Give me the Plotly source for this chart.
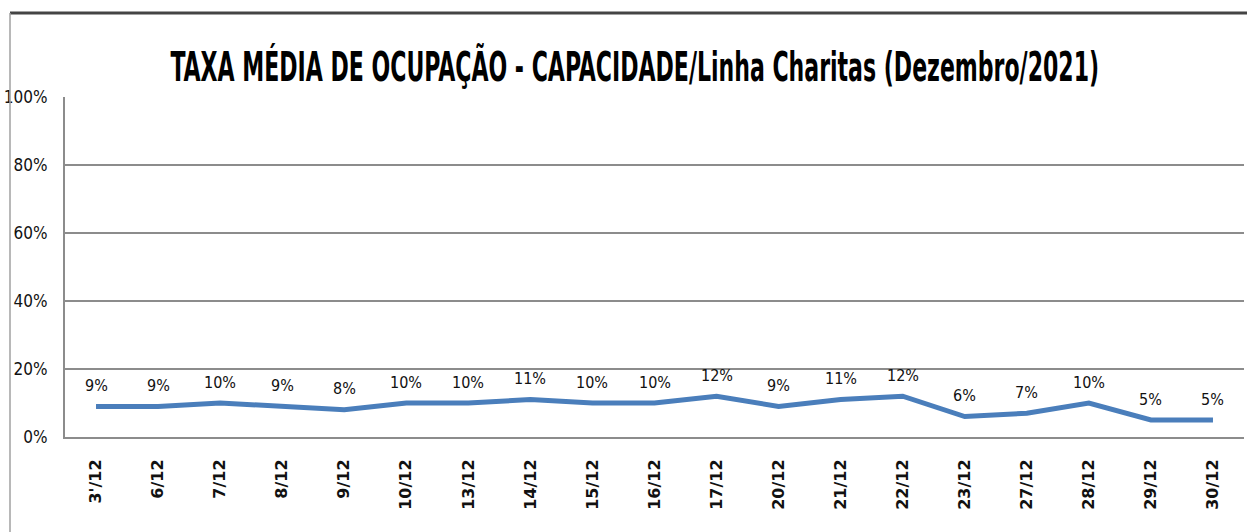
import plotly.graph_objects as go

dates = ["3'/12", "6/12", "7/12", "8/12", "9/12", "10/12", "13/12", "14/12", "15/12", "16/12",
         "17/12", "20/12", "21/12", "22/12", "23/12", "27/12", "28/12", "29/12", "30/12"]
ocupacao = [9, 9, 10, 9, 8, 10, 10, 11, 10, 10, 12, 9, 11, 12, 6, 7, 10, 5, 5]
y_ticks = [0, 20, 40, 60, 80, 100]
y_tick_text = ["0%", "20%", "40%", "60%", "80%", "100%"]

W, H = 1247, 532
L, R, T, B = 65, 3, 97, 95
pw, ph = W - L - R, H - T - B
NARROW = "DejaVu Sans Condensed, Liberation Sans, sans-serif"
TITLE_Y = 67

fig = go.Figure()
fig.add_trace(go.Scatter(
    x=dates, y=ocupacao, mode="lines",
    line=dict(color="#4A7EBB", width=5),
    cliponaxis=False, hoverinfo="skip"
))

for d, v in zip(dates, ocupacao):
    fig.add_annotation(x=d, y=v, text=f"{v}%", showarrow=False, yanchor="middle",
                       yshift=21, font=dict(family=NARROW, size=16, color="#111"))

fig.update_layout(
    width=W, height=H, margin=dict(l=L, r=R, t=T, b=B),
    paper_bgcolor="white", plot_bgcolor="white", showlegend=False,
    title=dict(text="<b>TAXA MÉDIA DE OCUPAÇÃO - CAPACIDADE/Linha Charitas (Dezembro/2021)</b>",
               x=0.509, xanchor="center", y=1 - TITLE_Y / H, yanchor="middle",
               font=dict(family=NARROW, size=24.5, color="black")),
    xaxis=dict(type="category", range=[-0.5, len(dates) - 0.5], tickangle=-90,
               showgrid=False, showline=True,
               linecolor="#8C8C8C", linewidth=2, ticks="", ticklabelstandoff=14,
               tickfont=dict(family="DejaVu Sans", size=16, color="#111", weight="bold")),
    yaxis=dict(range=[0, 100], tickvals=y_ticks, ticktext=y_tick_text, showgrid=True,
               gridcolor="#8C8C8C", gridwidth=2, showline=True, linecolor="#8C8C8C",
               linewidth=2, ticks="", ticklabelstandoff=12, zeroline=False,
               tickfont=dict(family=NARROW, size=17, color="#111")),
)

# outer chart frame (top and left edges visible in the reference)
fx = (10 - L) / pw
fy_top = (T + ph - 13) / ph
fy_bot = (T + ph - H - 5) / ph
fig.add_shape(type="line", xref="paper", yref="paper", x0=fx, x1=1.01, y0=fy_top, y1=fy_top,
              line=dict(color="#444", width=3))
fig.add_shape(type="line", xref="paper", yref="paper", x0=fx, x1=fx, y0=fy_top, y1=fy_bot,
              line=dict(color="#A0A0A0", width=1.5))

s = 1.68
post = (
    "document.body.style.margin='0';document.body.style.overflow='hidden';"
    "var t=document.querySelector('.gtitle');"
    f"if(t){{t.setAttribute('transform','translate(0,{TITLE_Y * (1 - s)}) scale(1,{s})');}}"
)
fig.write_html("out.html", config={"displayModeBar": False}, post_script=post)
